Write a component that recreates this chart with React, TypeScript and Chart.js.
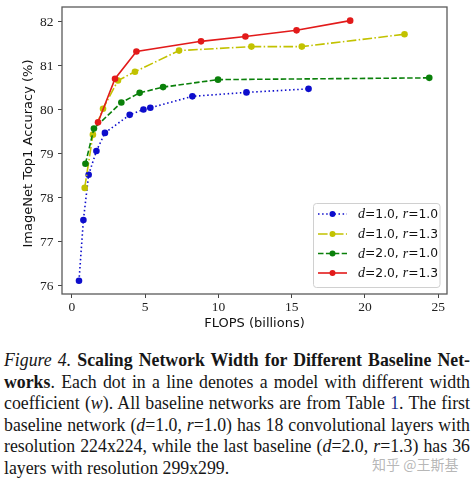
import React, { useEffect, useRef } from "react";
import { Chart, registerables } from "chart.js";

Chart.register(...registerables);

// ---- data ----
const xTicks = [0, 5, 10, 15, 20, 25];
const yTicks = [76, 77, 78, 79, 80, 81, 82];

const d1r1X = [0.48, 0.78, 1.14, 1.67, 2.25, 3.94, 4.88, 5.35, 8.22, 11.91, 16.15];
const d1r1Y = [76.11, 77.49, 78.52, 79.06, 79.47, 79.88, 80.0, 80.04, 80.3, 80.39, 80.47];

const d1r13X = [0.87, 1.43, 2.12, 3.14, 4.3, 7.31, 12.25, 15.69, 22.7];
const d1r13Y = [78.22, 79.43, 80.02, 80.66, 80.86, 81.34, 81.43, 81.43, 81.71];

const d2r1X = [0.92, 1.5, 3.37, 4.62, 6.22, 9.97, 24.39];
const d2r1Y = [78.77, 79.57, 80.16, 80.38, 80.51, 80.68, 80.72];

const d2r13X = [1.78, 2.94, 4.4, 8.81, 11.84, 15.33, 18.99];
const d2r13Y = [79.71, 80.7, 81.32, 81.55, 81.66, 81.8, 82.02];

const legendD = ["1.0", "1.0", "2.0", "2.0"];
const legendR = ["1.0", "1.3", "1.0", "1.3"];

const xTitle = "FLOPS (billions)";
const yTitle = "ImageNet Top1 Accuracy (%)";

const COLORS = ["#0d0dcc", "#c2c200", "#0a800a", "#e21a1a"];
const DASHES: number[][] = [[1.5, 2.6], [9.6, 2.4, 1.5, 2.4], [5.5, 2.4], []];

const SANS = '"DejaVu Sans", sans-serif';
const SERIF = '"Liberation Serif", serif';
const TICK_FONT = `13.5px ${SERIF}`;

function makeDs(label: string, xs: number[], ys: number[], idx: number) {
  const c = COLORS[idx];
  return {
    label,
    data: xs.map((x, i) => ({ x, y: ys[i] })),
    borderColor: c,
    backgroundColor: c,
    pointBackgroundColor: c,
    pointBorderColor: c,
    pointBorderWidth: 0,
    pointRadius: 3.3,
    pointHoverRadius: 3.3,
    borderWidth: 1.6,
    borderDash: DASHES[idx],
    tension: 0,
    fill: false,
    showLine: true,
    order: 4 - idx,
  };
}

const decorPlugin = {
  id: "decor",
  afterDraw(chart: any) {
    const ctx = chart.ctx as CanvasRenderingContext2D;
    const a = chart.chartArea;
    const xs = chart.scales.x;
    const ys = chart.scales.y;
    ctx.save();
    // frame
    ctx.strokeStyle = "#5a5a5a";
    ctx.lineWidth = 1.3;
    ctx.setLineDash([]);
    ctx.strokeRect(a.left, a.top, a.right - a.left, a.bottom - a.top);

    // tick labels (positions from the library scales)
    ctx.fillStyle = "#222";
    ctx.font = TICK_FONT;
    ctx.textAlign = "right";
    ctx.textBaseline = "middle";
    for (const v of yTicks) {
      ctx.fillText(String(v), a.left - 8.5, ys.getPixelForValue(v) + 0.5);
    }
    ctx.textAlign = "center";
    ctx.textBaseline = "top";
    for (const v of xTicks) {
      ctx.fillText(String(v), xs.getPixelForValue(v), a.bottom + 7);
    }

    // axis titles
    ctx.fillStyle = "#111";
    ctx.font = `13px ${SANS}`;
    ctx.textAlign = "center";
    ctx.textBaseline = "middle";
    ctx.fillText(xTitle, (a.left + a.right) / 2, 324);
    ctx.save();
    ctx.translate(29, (a.top + a.bottom) / 2 + 3);
    ctx.rotate(-Math.PI / 2);
    ctx.fillText(yTitle, 0, 0);
    ctx.restore();

    // legend
    const bx = 313.5, by = 203.5, bw = 126.5, bh = 84;
    ctx.beginPath();
    (ctx as any).roundRect(bx, by, bw, bh, 3);
    ctx.fillStyle = "rgba(255,255,255,0.85)";
    ctx.fill();
    ctx.strokeStyle = "#d0d0d0";
    ctx.lineWidth = 1;
    ctx.stroke();

    const rowsY = [214, 234, 253.5, 273];
    for (let i = 0; i < 4; i++) {
      const y = rowsY[i];
      ctx.strokeStyle = COLORS[i];
      ctx.lineWidth = 1.6;
      ctx.setLineDash(DASHES[i]);
      ctx.beginPath();
      ctx.moveTo(318, y);
      ctx.lineTo(347, y);
      ctx.stroke();
      ctx.setLineDash([]);
      ctx.fillStyle = COLORS[i];
      ctx.beginPath();
      ctx.arc(332.5, y, 3, 0, Math.PI * 2);
      ctx.fill();

      const segs: [string, string][] = [
        ["d", `italic 14px ${SERIF}`],
        [`=${legendD[i]}, `, `12.3px ${SANS}`],
        ["r", `italic 14px ${SERIF}`],
        [`=${legendR[i]}`, `12.3px ${SANS}`],
      ];
      let x = 358;
      ctx.fillStyle = "#111";
      ctx.textAlign = "left";
      ctx.textBaseline = "middle";
      for (const [t, f] of segs) {
        ctx.font = f;
        ctx.fillText(t, x, y + 0.5);
        x += ctx.measureText(t).width;
      }
    }
    ctx.restore();
  },
};

function ChartBox() {
  const ref = useRef<HTMLCanvasElement | null>(null);
  useEffect(() => {
    let chart: Chart | null = null;
    let cancelled = false;
    const build = () => {
      if (cancelled || !ref.current) return;
      chart = new Chart(ref.current, {
        type: "line",
        data: {
          datasets: [
            makeDs("d=1.0, r=1.0", d1r1X, d1r1Y, 0),
            makeDs("d=1.0, r=1.3", d1r13X, d1r13Y, 1),
            makeDs("d=2.0, r=1.0", d2r1X, d2r1Y, 2),
            makeDs("d=2.0, r=1.3", d2r13X, d2r13Y, 3),
          ] as any,
        },
        options: {
          responsive: false,
          animation: false,
          devicePixelRatio: 1,
          layout: { padding: { left: 0, right: 27, top: 7, bottom: 0 } },
          plugins: { legend: { display: false }, tooltip: { enabled: false } },
          scales: {
            x: {
              type: "linear",
              min: -0.68,
              max: 25.6,
              afterBuildTicks: (s: any) => {
                s.ticks = xTicks.map((v) => ({ value: v }));
              },
              afterFit: (s: any) => {
                s.height = 51;
              },
              grid: { display: true, drawOnChartArea: false, drawTicks: true, tickLength: 4, color: "#444", lineWidth: 1 },
              border: { display: false },
              ticks: { display: false, autoSkip: false },
            },
            y: {
              type: "linear",
              min: 75.81,
              max: 82.33,
              afterBuildTicks: (s: any) => {
                s.ticks = yTicks.map((v) => ({ value: v }));
              },
              afterFit: (s: any) => {
                s.width = 62;
              },
              grid: { display: true, drawOnChartArea: false, drawTicks: true, tickLength: 4, color: "#444", lineWidth: 1 },
              border: { display: false },
              ticks: { display: false, autoSkip: false },
            },
          },
        },
        plugins: [decorPlugin],
      });
    };
    const fontsApi: any = (document as any).fonts;
    if (fontsApi && fontsApi.load) {
      const loads = Promise.all([
        fontsApi.load(TICK_FONT),
        fontsApi.load(`italic 14px ${SERIF}`),
        fontsApi.load(`13px ${SANS}`),
      ]).catch(() => null);
      const timeout = new Promise((r) => setTimeout(r, 400));
      Promise.race([loads, timeout]).then(build);
    } else {
      build();
    }
    return () => {
      cancelled = true;
      if (chart) chart.destroy();
    };
  }, []);
  return <canvas ref={ref} width={474} height={345} style={{ display: "block", width: 474, height: 345 }} />;
}

const lineStyle: React.CSSProperties = {
  height: "21.6px",
  lineHeight: "21.6px",
  whiteSpace: "nowrap",
  textAlign: "justify",
  textAlignLast: "justify" as any,
};

export default function App() {
  return (
    <div style={{ position: "absolute", left: 0, top: 0, width: 474, height: 483, background: "#fff", overflow: "hidden" }}>
      <ChartBox />
      <div
        style={{
          position: "absolute",
          left: 4,
          top: 350,
          width: 466,
          fontFamily: SERIF,
          fontSize: "17.8px",
          color: "#161616",
        }}
      >
        <div style={lineStyle}>
          <i>Figure 4.</i> <b>Scaling Network Width for Different Baseline Net-</b>
        </div>
        <div style={lineStyle}>
          <b>works</b>. Each dot in a line denotes a model with different width
        </div>
        <div style={lineStyle}>
          coefficient (<i>w</i>). All baseline networks are from Table <span style={{ color: "#1c2f8c" }}>1</span>. The first
        </div>
        <div style={lineStyle}>
          baseline network (<i>d</i>=1.0, <i>r</i>=1.0) has 18 convolutional layers with
        </div>
        <div style={lineStyle}>
          resolution 224x224, while the last baseline (<i>d</i>=2.0, <i>r</i>=1.3) has 36
        </div>
        <div style={{ ...lineStyle, textAlign: "left", textAlignLast: "left" as any }}>
          layers with resolution 299x299.
        </div>
      </div>
      <div
        style={{
          position: "absolute",
          left: 372,
          top: 455,
          fontFamily: '"Noto Sans CJK SC", sans-serif',
          fontSize: "14px",
          lineHeight: "18px",
          color: "rgba(160,160,160,0.75)",
          whiteSpace: "nowrap",
        }}
      >
        知乎 @王斯基
      </div>
    </div>
  );
}
